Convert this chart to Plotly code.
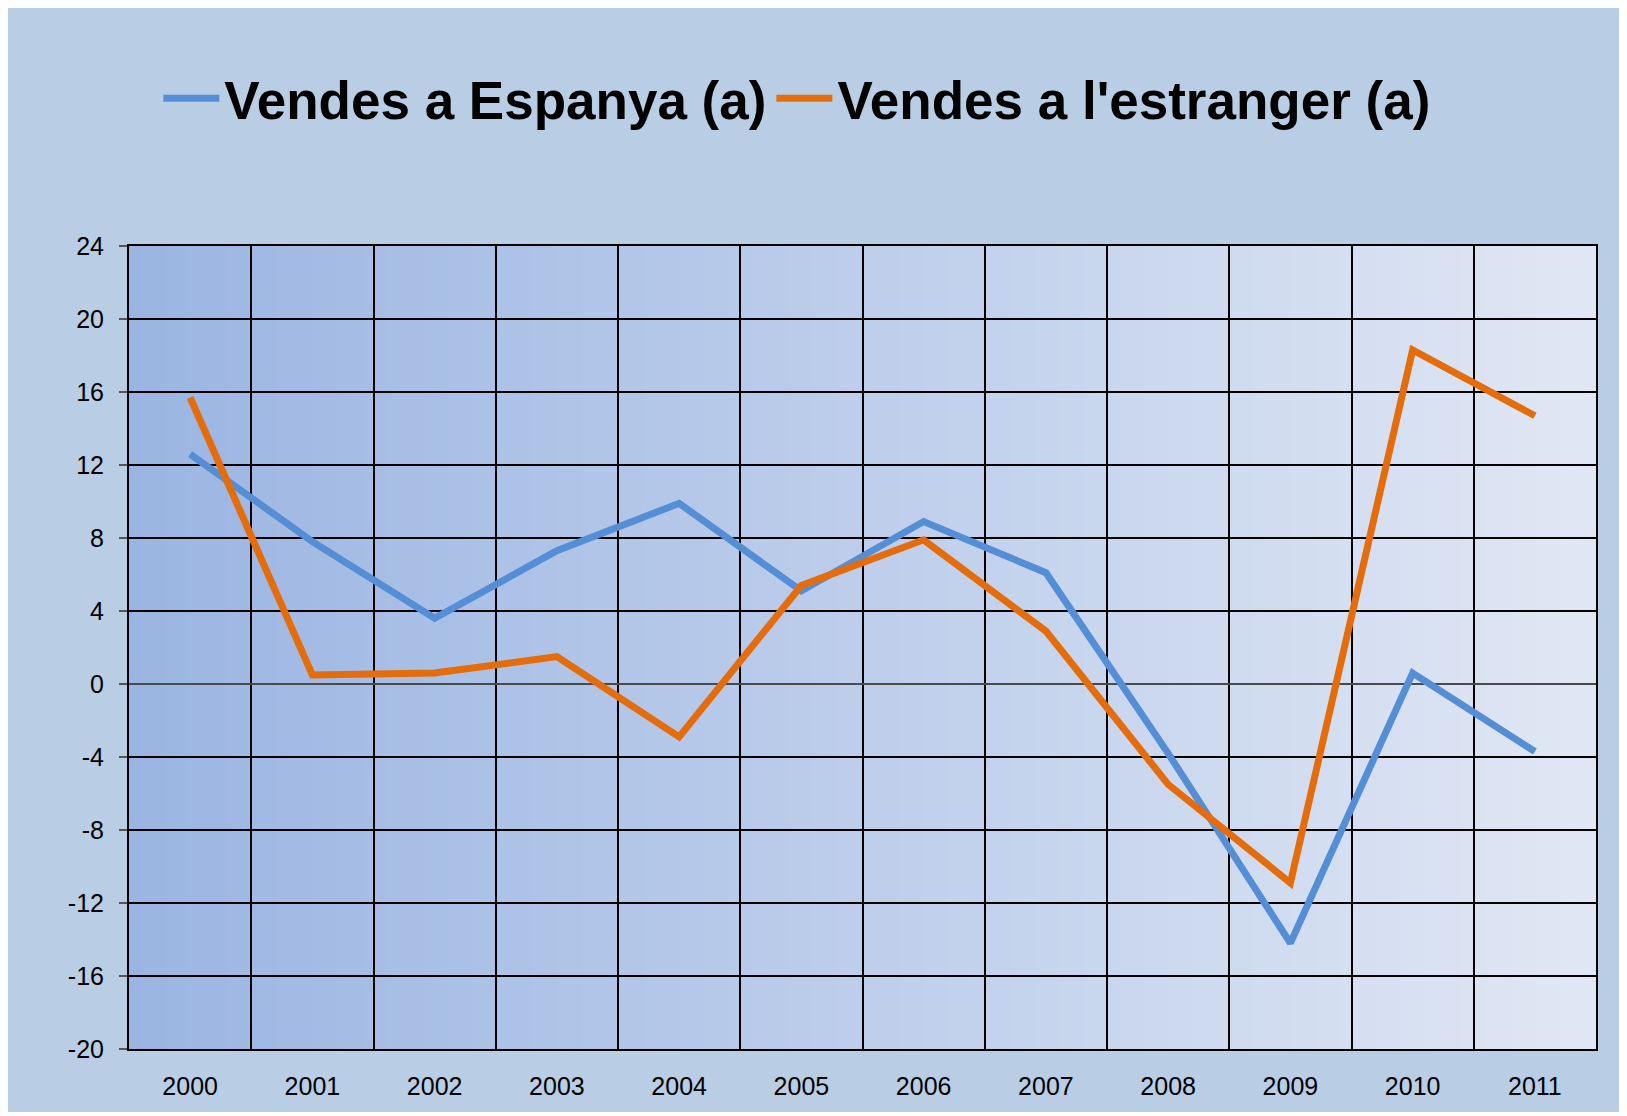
import plotly.graph_objects as go

years = ["2000", "2001", "2002", "2003", "2004", "2005", "2006", "2007", "2008", "2009", "2010", "2011"]
espanya = [12.6, 7.8, 3.6, 7.3, 9.9, 5.1, 8.9, 6.1, -3.8, -14.2, 0.6, -3.7]
estranger = [15.7, 0.5, 0.6, 1.5, -2.9, 5.4, 7.9, 2.9, -5.5, -10.9, 18.3, 14.7]
y_ticks = [-20, -16, -12, -8, -4, 0, 4, 8, 12, 16, 20, 24]
y_tick_labels = [str(v) for v in y_ticks]

name_esp = "Vendes a Espanya (a)"
name_est = "Vendes a l'estranger (a)"

fig = go.Figure()
fig.add_trace(go.Scatter(x=years, y=espanya, mode="lines", name=name_esp,
                         line=dict(color="#558ED5", width=7)))
fig.add_trace(go.Scatter(x=years, y=estranger, mode="lines", name=name_est,
                         line=dict(color="#E46C0A", width=7)))

# horizontal gradient background of the plot area
c0 = (155, 181, 226)
c1 = (224, 231, 244)
n = 120
shapes = []
for i in range(n):
    t = i / (n - 1)
    col = tuple(round(c0[k] + (c1[k] - c0[k]) * t) for k in range(3))
    shapes.append(dict(type="rect", xref="paper", yref="paper",
                       x0=i / n, x1=min(1, (i + 1.6) / n), y0=0, y1=1,
                       fillcolor="rgb(%d,%d,%d)" % col, line=dict(width=0),
                       layer="below"))

font_family = "Liberation Sans, Arial, sans-serif"

fig.update_layout(
    width=1619, height=1104,
    margin=dict(l=121, r=31, t=238, b=61),
    paper_bgcolor="#B9CDE5",
    plot_bgcolor="rgb(155,181,226)",
    shapes=shapes,
    font=dict(family=font_family, color="black", size=25),
    showlegend=True,
    legend=dict(orientation="h", x=0.02, xanchor="left", y=1.184, yanchor="middle",
                font=dict(size=53, family=font_family, color="black", weight="bold"),
                bgcolor="rgba(0,0,0,0)", itemwidth=56, tracegroupgap=0),
    xaxis=dict(type="category", tickson="boundaries", ticks="",
               range=[-0.5, len(years) - 0.5],
               showgrid=True, gridcolor="black", gridwidth=1.5,
               showline=True, linecolor="black", linewidth=2, mirror=True,
               tickfont=dict(size=25), ticklabelstandoff=14),
    yaxis=dict(range=[-20, 24], tickvals=y_ticks, ticktext=y_tick_labels,
               ticks="outside", ticklen=8,
               tickcolor="#555555", tickwidth=1.5,
               showgrid=True, gridcolor="black", gridwidth=1.5,
               zeroline=True, zerolinecolor="#4a4a4a", zerolinewidth=1.5,
               showline=True, linecolor="black", linewidth=2, mirror=True,
               tickfont=dict(size=25), ticklabelstandoff=10),
)

fig.write_html("out.html")
